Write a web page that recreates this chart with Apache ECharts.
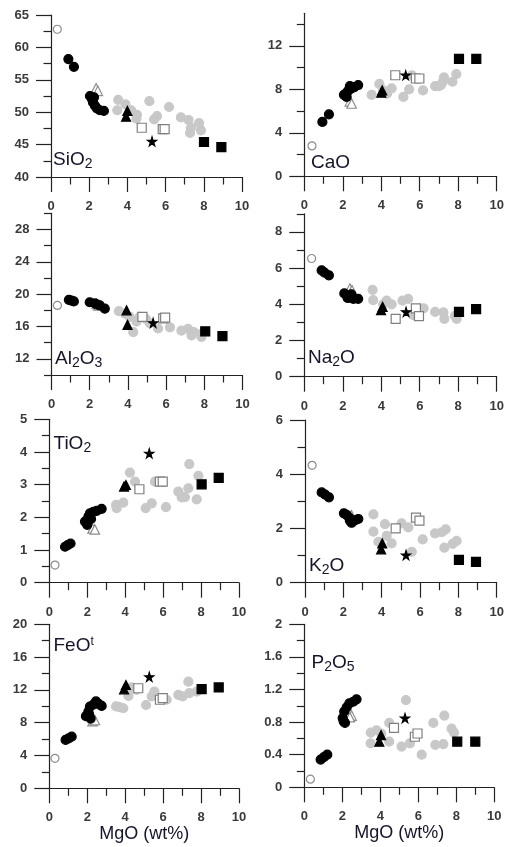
<!DOCTYPE html>
<html>
<head>
<meta charset="utf-8">
<title>MgO variation diagrams</title>
<script src="https://cdn.jsdelivr.net/npm/echarts@6/dist/echarts.min.js"></script>
<style>
  html, body { margin: 0; padding: 0; background: #fff; }
  #chart { width: 507px; height: 847px; }
</style>
</head>
<body>
<div id="chart"></div>
<script>
// values: [MgO, oxide] pairs per sample group
var sio2 = {
  grayCircle: [[3.52,51.9],[3.47,50.3],[3.9,51.2],[4.2,50.3],[4.5,49.6],[4.47,49.0],[5.15,51.7],[5.4,48.9],[5.55,49.4],[6.18,50.8],[6.8,49.2],[7.2,48.8],[7.33,47.6],[7.28,46.8],[7.75,48.3],[7.85,47.2]],
  grayTriangle: [[2.36,53.7],[2.45,53.3]],
  openCircle: [[0.33,62.8]],
  blackCircle: [[0.91,58.2],[1.2,57.0],[2.04,52.5],[2.15,52.0],[2.25,52.3],[2.2,51.5],[2.3,51.0],[2.4,50.6],[2.56,50.3],[2.77,50.2]],
  openSquare: [[4.75,47.6],[5.85,47.4],[5.95,47.4]],
  blackTriangle: [[4.0,50.2],[3.93,49.3]],
  star: [[5.29,45.5]],
  blackSquare: [[8.01,45.4],[8.92,44.6]]
};
var cao = {
  grayCircle: [[3.5,7.5],[3.9,8.5],[4.1,7.9],[4.3,7.6],[4.54,8.1],[5.15,7.3],[5.45,8.0],[5.6,9.3],[6.17,7.9],[6.8,8.3],[7.0,8.3],[7.1,8.4],[7.2,8.7],[7.26,9.1],[7.7,8.7],[7.9,9.4]],
  grayTriangle: [[2.37,6.9],[2.46,6.7]],
  openCircle: [[0.4,2.8]],
  blackCircle: [[0.94,5.0],[1.28,5.7],[2.06,7.5],[2.2,7.3],[2.2,7.7],[2.3,7.9],[2.37,8.3],[2.45,8.1],[2.6,8.2],[2.8,8.4]],
  openSquare: [[4.73,9.3],[5.8,9.0],[5.98,9.0]],
  blackTriangle: [[4.05,7.9],[4.0,7.7]],
  star: [[5.27,9.3]],
  blackSquare: [[8.04,10.8],[8.94,10.8]]
};
var al2o3 = {
  grayCircle: [[3.53,17.9],[3.84,17.6],[4.1,17.2],[4.28,15.3],[4.45,16.6],[4.62,17.2],[4.95,16.9],[5.15,16.4],[5.58,15.75],[6.2,15.9],[6.8,15.5],[7.15,15.7],[7.33,14.9],[7.45,15.3],[7.85,14.7],[7.85,15.1]],
  grayTriangle: [[2.37,18.8],[2.46,18.6]],
  openCircle: [[0.31,18.6]],
  blackCircle: [[0.91,19.3],[1.05,19.2],[1.17,19.1],[2.0,19.0],[2.27,18.85],[2.4,18.7],[2.53,18.6],[2.79,18.2]],
  openSquare: [[4.76,17.2],[5.85,17.0],[5.95,17.1]],
  blackTriangle: [[3.93,18.0],[3.98,16.2]],
  star: [[5.32,16.45]],
  blackSquare: [[8.05,15.4],[8.95,14.8]]
};
var na2o = {
  grayCircle: [[3.55,4.8],[3.58,4.23],[4.1,4.0],[4.28,4.2],[4.54,4.0],[5.1,4.2],[5.4,4.3],[5.67,3.4],[5.9,3.6],[6.2,3.77],[6.8,3.58],[7.23,3.55],[7.28,3.2],[7.83,3.36],[7.92,3.2]],
  grayTriangle: [[2.37,4.87],[2.48,4.78]],
  openCircle: [[0.38,6.53]],
  blackCircle: [[0.9,5.88],[1.05,5.75],[1.28,5.6],[2.08,4.6],[2.2,4.5],[2.25,4.35],[2.37,4.37],[2.45,4.55],[2.55,4.3],[2.8,4.3]],
  openSquare: [[4.75,3.2],[5.8,3.77],[5.96,3.35]],
  blackTriangle: [[4.07,3.86],[3.99,3.68]],
  star: [[5.29,3.58]],
  blackSquare: [[8.04,3.58],[8.93,3.73]]
};
var tio2 = {
  grayCircle: [[3.52,2.38],[3.55,2.28],[3.9,2.45],[4.25,3.37],[4.52,3.09],[5.08,2.28],[5.4,2.43],[5.57,3.09],[6.15,2.31],[6.8,2.79],[6.98,2.61],[7.15,2.62],[7.33,2.89],[7.38,3.63],[7.77,2.55],[7.86,3.27]],
  grayTriangle: [[2.28,1.66],[2.4,1.63]],
  openCircle: [[0.3,0.54]],
  blackCircle: [[0.83,1.1],[0.97,1.15],[1.12,1.2],[1.88,1.87],[2.0,1.77],[2.06,2.02],[2.14,2.12],[2.2,1.95],[2.32,2.17],[2.5,2.2],[2.76,2.26]],
  openSquare: [[4.75,2.86],[5.83,3.09],[5.98,3.09]],
  blackTriangle: [[4.04,2.99],[3.94,2.94]],
  star: [[5.27,3.96]],
  blackSquare: [[8.03,3.01],[8.93,3.21]]
};
var k2o = {
  grayCircle: [[3.57,2.52],[3.57,1.88],[3.83,1.51],[4.17,2.16],[4.26,1.73],[4.52,1.45],[5.04,2.19],[5.39,2.04],[5.57,1.14],[6.14,1.6],[6.78,1.82],[7.13,1.86],[7.34,1.97],[7.27,1.29],[7.7,1.43],[7.91,1.54]],
  grayTriangle: [[2.35,2.44],[2.43,2.48]],
  openCircle: [[0.37,4.33]],
  blackCircle: [[0.87,3.33],[1.05,3.25],[1.25,3.15],[2.03,2.56],[2.17,2.5],[2.3,2.4],[2.35,2.28],[2.43,2.21],[2.6,2.3],[2.78,2.35]],
  openSquare: [[4.73,2.0],[5.79,2.4],[5.97,2.29]],
  blackTriangle: [[4.03,1.45],[3.97,1.23]],
  star: [[5.27,1.02]],
  blackSquare: [[8.03,0.84],[8.92,0.77]]
};
var feot = {
  grayCircle: [[3.52,10.0],[3.7,9.9],[3.9,9.76],[4.17,11.26],[4.34,12.3],[4.6,12.0],[5.1,10.16],[5.4,11.2],[5.54,11.8],[6.19,10.8],[6.8,11.4],[7.03,11.2],[7.33,13.0],[7.38,11.6],[7.77,11.8]],
  grayTriangle: [[2.28,8.2],[2.4,8.33]],
  openCircle: [[0.3,3.66]],
  blackCircle: [[0.86,5.9],[1.02,6.1],[1.18,6.3],[1.93,8.8],[2.06,9.35],[2.14,9.96],[2.18,8.5],[2.1,9.0],[2.32,10.2],[2.46,10.6],[2.6,10.3],[2.76,10.04]],
  openSquare: [[4.69,12.2],[5.83,10.8],[5.98,11.0]],
  blackTriangle: [[4.04,12.6],[3.94,12.07]],
  star: [[5.27,13.6]],
  blackSquare: [[8.03,12.1],[8.93,12.3]]
};
var p2o5 = {
  grayCircle: [[3.5,0.67],[3.49,0.54],[3.8,0.70],[4.05,0.66],[4.47,0.79],[4.47,0.56],[5.12,0.5],[5.35,1.07],[5.56,0.54],[6.18,0.4],[6.79,0.79],[6.9,0.52],[7.32,0.53],[7.37,0.88],[7.75,0.72],[7.88,0.67]],
  grayTriangle: [[2.49,0.88],[2.4,0.86]],
  openCircle: [[0.32,0.1]],
  blackCircle: [[0.86,0.34],[1.03,0.37],[1.21,0.4],[2.02,0.85],[2.07,0.81],[2.14,0.79],[2.1,0.93],[2.23,0.98],[2.37,1.03],[2.58,1.05],[2.75,1.08]],
  openSquare: [[4.72,0.73],[5.82,0.62],[5.96,0.66]],
  blackTriangle: [[4.04,0.64],[3.95,0.56]],
  star: [[5.3,0.85]],
  blackSquare: [[8.05,0.56],[9.0,0.56]]
};

// tick labels
var xTicks = [0, 2, 4, 6, 8, 10];
var xMinor = [1, 3, 5, 7, 9];
var sio2Ticks = [40, 45, 50, 55, 60, 65],  sio2Minor = [42.5, 47.5, 52.5, 57.5, 62.5];
var caoTicks = [0, 4, 8, 12],              caoMinor = [2, 6, 10, 14];
var al2o3Ticks = [12, 16, 20, 24, 28],     al2o3Minor = [10, 14, 18, 22, 26, 30];
var na2oTicks = [0, 2, 4, 6, 8],           na2oMinor = [1, 3, 5, 7, 9];
var tio2Ticks = [0, 1, 2, 3, 4, 5],        tio2Minor = [0.5, 1.5, 2.5, 3.5, 4.5];
var k2oTicks = [0, 2, 4, 6],               k2oMinor = [1, 3, 5];
var feotTicks = [0, 4, 8, 12, 16, 20],     feotMinor = [2, 6, 10, 14, 18];
var p2o5Ticks = [0, 0.4, 0.8, 1.2, 1.6, 2], p2o5Minor = [0.2, 0.6, 1.0, 1.4, 1.8];

var FONT = 'Arial, "Liberation Sans", sans-serif';
var LABEL_COLOR = '#3a3a3a';
var AXIS_COLOR = '#222';
var TEXT_COLOR = '#14142a';
var starPath = 'path://M50,0 L61,35 L98,35 L68,57 L79,91 L50,70 L21,91 L32,57 L2,35 L39,35 Z';

// panel layout: grid rect [left, top, width, height], title position
var panels = [
  { data: sio2,  min: 40, max: 65, ticks: sio2Ticks,  minor: sio2Minor,  rect: [51, 15, 191, 162],      label: '{m|SiO}{s|2}',         pos: [53, 150] },
  { data: cao,   min: 0,  max: 15, ticks: caoTicks,   minor: caoMinor,   rect: [304.3, 13.3, 192.4, 163], label: '{m|CaO}',              pos: [311, 153] },
  { data: al2o3, min: 10, max: 30, ticks: al2o3Ticks, minor: al2o3Minor, rect: [51.5, 213.3, 191, 161.7], label: '{m|Al}{s|2}{m|O}{s|3}', pos: [55, 349] },
  { data: na2o,  min: 0,  max: 9,  ticks: na2oTicks,  minor: na2oMinor,  rect: [304.3, 213.8, 192.4, 162.9], label: '{m|Na}{s|2}{m|O}',  pos: [308, 348] },
  { data: tio2,  min: 0,  max: 5,  ticks: tio2Ticks,  minor: tio2Minor,  rect: [49.3, 419.3, 189.7, 163.4], label: '{m|TiO}{s|2}',      pos: [53.5, 434] },
  { data: k2o,   min: 0,  max: 6,  ticks: k2oTicks,   minor: k2oMinor,   rect: [305, 420, 191.7, 162.7],  label: '{m|K}{s|2}{m|O}',      pos: [309, 556] },
  { data: feot,  min: 0,  max: 20, ticks: feotTicks,  minor: feotMinor,  rect: [49.3, 624.3, 189.7, 164], label: '{m|FeO}{t|t}',         pos: [53.5, 636] },
  { data: p2o5,  min: 0,  max: 2,  ticks: p2o5Ticks,  minor: p2o5Minor,  rect: [304.3, 624.3, 190, 163],  label: '{m|P}{s|2}{m|O}{s|5}', pos: [311.5, 653] }
];

// draw order: first listed is drawn underneath
var groups = [
  { key: 'grayCircle',    symbol: 'circle',   size: 9,  fill: '#c8c8c8', border: '#c8c8c8' },
  { key: 'grayTriangle',  symbol: 'triangle', size: 9.5, fill: '#fff',   border: '#8c8c8c' },
  { key: 'openCircle',    symbol: 'circle',   size: 8,  fill: '#fff',    border: '#8c8c8c' },
  { key: 'blackCircle',   symbol: 'circle',   size: 9,  fill: '#000',    border: '#000' },
  { key: 'openSquare',    symbol: 'rect',     size: 9,  fill: '#fff',    border: '#808080' },
  { key: 'blackTriangle', symbol: 'triangle', size: 9,  fill: '#000',    border: '#000' },
  { key: 'star',          symbol: starPath,   size: 9,  fill: '#000',    border: '#000' },
  { key: 'blackSquare',   symbol: 'rect',     size: 9,  fill: '#000',    border: '#000' }
];

var rich = {
  m: { fontSize: 19, fontFamily: FONT, lineHeight: 22, verticalAlign: 'top', fill: TEXT_COLOR },
  s: { fontSize: 14, fontFamily: FONT, lineHeight: 22, verticalAlign: 'top', padding: [7, 0, 0, 0], fill: TEXT_COLOR },
  t: { fontSize: 12, fontFamily: FONT, lineHeight: 14, verticalAlign: 'top', fill: TEXT_COLOR }
};

var grids = [], xAxes = [], yAxes = [], series = [], graphics = [];

panels.forEach(function (p, i) {
  var bottomRow = i >= 6;
  grids.push({ left: p.rect[0], top: p.rect[1], width: p.rect[2], height: p.rect[3], outerBoundsMode: 'none' });

  var tickStyle = { color: AXIS_COLOR, width: 1.2 };
  var labelStyle = { color: LABEL_COLOR, fontSize: 13, fontWeight: 'bold', fontFamily: FONT };

  // main x axis: line, long ticks, labels
  xAxes.push({
    gridIndex: i, type: 'value', min: 0, max: 10, position: 'bottom',
    axisLine: { onZero: false, lineStyle: tickStyle },
    axisTick: { customValues: xTicks, length: 15, lineStyle: tickStyle },
    axisLabel: Object.assign({ customValues: xTicks, margin: 23 }, labelStyle),
    splitLine: { show: false },
    name: bottomRow ? 'MgO (wt%)' : '', nameLocation: 'middle', nameGap: 34,
    nameTextStyle: { fontSize: 18, fontFamily: FONT, color: TEXT_COLOR }
  });
  // short ticks only
  xAxes.push({
    gridIndex: i, type: 'value', min: 0, max: 10, position: 'bottom',
    axisLine: { show: false, onZero: false },
    axisTick: { customValues: xMinor, length: 7.5, lineStyle: tickStyle },
    axisLabel: { show: false }, splitLine: { show: false }
  });
  yAxes.push({
    gridIndex: i, type: 'value', min: p.min, max: p.max, position: 'left',
    axisLine: { onZero: false, lineStyle: tickStyle },
    axisTick: { customValues: p.ticks, length: 15, lineStyle: tickStyle },
    axisLabel: Object.assign({ customValues: p.ticks, margin: 22 }, labelStyle),
    splitLine: { show: false }
  });
  yAxes.push({
    gridIndex: i, type: 'value', min: p.min, max: p.max, position: 'left',
    axisLine: { show: false, onZero: false },
    axisTick: { customValues: p.minor, length: 7.5, lineStyle: tickStyle },
    axisLabel: { show: false }, splitLine: { show: false }
  });

  groups.forEach(function (g) {
    series.push({
      type: 'scatter',
      xAxisIndex: 2 * i, yAxisIndex: 2 * i,
      data: p.data[g.key],
      symbol: g.symbol, symbolSize: g.size,
      itemStyle: { color: g.fill, borderColor: g.border, borderWidth: 1.2, opacity: 1 },
      emphasis: { disabled: true },
      silent: true
    });
  });

  graphics.push({
    type: 'text', left: p.pos[0], top: p.pos[1], silent: true,
    style: { text: p.label, rich: rich }
  });
});

var chart = echarts.init(document.getElementById('chart'));
chart.setOption({
  animation: false,
  backgroundColor: '#fff',
  grid: grids,
  xAxis: xAxes,
  yAxis: yAxes,
  series: series,
  graphic: graphics
});
window.onresize = function () {
  chart.resize();
};
</script>
</body>
</html>
